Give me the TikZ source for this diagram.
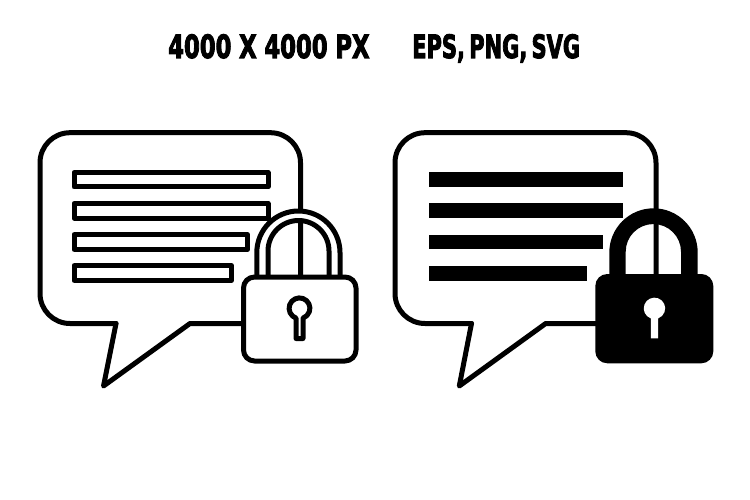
\documentclass[tikz,border=0pt]{standalone}
\usepackage{fontspec}
\setmainfont{DejaVu Sans}[BoldFeatures={FakeBold=3.5}]
\newcommand{\gapw}{\hspace{0.2em}}
\newcommand{\gapx}{\hspace{0.34em}}
\tikzset{
  x=1pt,y=-1pt,
  ink/.style={draw=black,line width=5pt,line join=round,line cap=round},
  outlinebar/.style={draw=black,line width=5pt,line join=round,fill=white},
  solidbar/.style={fill=black},
  heading/.style={inner sep=0pt,anchor=base west,text=black,font=\fontsize{32}{33}\selectfont\bfseries},
}
\begin{document}
\begin{tikzpicture}
\useasboundingbox (0,0) rectangle (750,500);
\fill[white] (0,0) rectangle (750,500);
% headings
\node[heading] (h1) at (168,58) {\scalebox{0.71}[1]{4000\gapx X\gapx 4000\gapx PX}};
\node[heading] (h2) at (412,58) {\scalebox{0.656}[1]{EPS,\gapw PNG,\gapw SVG}};
% left bubble
\draw[ink] (116,323.5) -- (70,323.5) arc[start angle=90,end angle=180,radius=30]
  -- (40,162.7) arc[start angle=180,end angle=270,radius=30]
  -- (270.5,132.7) arc[start angle=270,end angle=360,radius=30]
  -- (300.5,277);
\draw[ink] (116,323.5) -- (103.5,386) -- (190,323.5) -- (243.5,323.5);
\draw[outlinebar] (74,172.5) rectangle (268,187);
\draw[outlinebar] (74,203.5) rectangle (268,218);
\draw[outlinebar] (74,234.7) rectangle (247.5,249.3);
\draw[outlinebar] (74,265.7) rectangle (231.5,280.3);
% left lock
\path[fill=white,even odd rule] (256.8,277) -- (256.8,252.6) arc[start angle=180,end angle=360,radius=41.6] -- (340,277) -- cycle
  (268,277) -- (268,251) arc[start angle=180,end angle=360,radius=30.5] -- (329,277) -- cycle;
\draw[ink] (256.8,277) -- (256.8,252.6) arc[start angle=180,end angle=360,radius=41.6] -- (340,277);
\draw[ink] (268,277) -- (268,251) arc[start angle=180,end angle=360,radius=30.5] -- (329,277);
\draw[ink,fill=white,rounded corners=11pt] (243.5,277) rectangle (356,361);
\draw[ink,fill=white] (296,318.1) arc[start angle=109.7,end angle=430.3,radius=10.4] -- (303,338.5) -- (296,338.5) -- cycle;
% right bubble
\draw[ink] (471.5,323.5) -- (425,323.5) arc[start angle=90,end angle=180,radius=30]
  -- (395,162.7) arc[start angle=180,end angle=270,radius=30]
  -- (626,132.7) arc[start angle=270,end angle=360,radius=30]
  -- (656,277);
\draw[ink] (471.5,323.5) -- (459.3,386) -- (545.7,323.5) -- (600,323.5);
\fill[solidbar] (428.7,172.3) rectangle (623.3,187);
\fill[solidbar] (428.7,203.3) rectangle (623.3,218.3);
\fill[solidbar] (428.7,234.7) rectangle (602.7,249.3);
\fill[solidbar] (428.7,266) rectangle (587,280.7);
% right lock
\fill[solidbar,even odd rule] (609.3,280) -- (609.3,252.5) arc[start angle=180,end angle=360,radius=44.2] -- (697.7,280) -- cycle
  (625.7,280) -- (625.7,251.7) arc[start angle=180,end angle=360,radius=27.65] -- (681,280) -- cycle;
\fill[solidbar,rounded corners=12pt] (595.3,274) rectangle (713.3,363.3);
\fill[white] (650.8,318.4) arc[start angle=110,end angle=430,radius=10.7] -- (658.2,338.3) -- (650.8,338.3) -- cycle;
\end{tikzpicture}
\end{document}
